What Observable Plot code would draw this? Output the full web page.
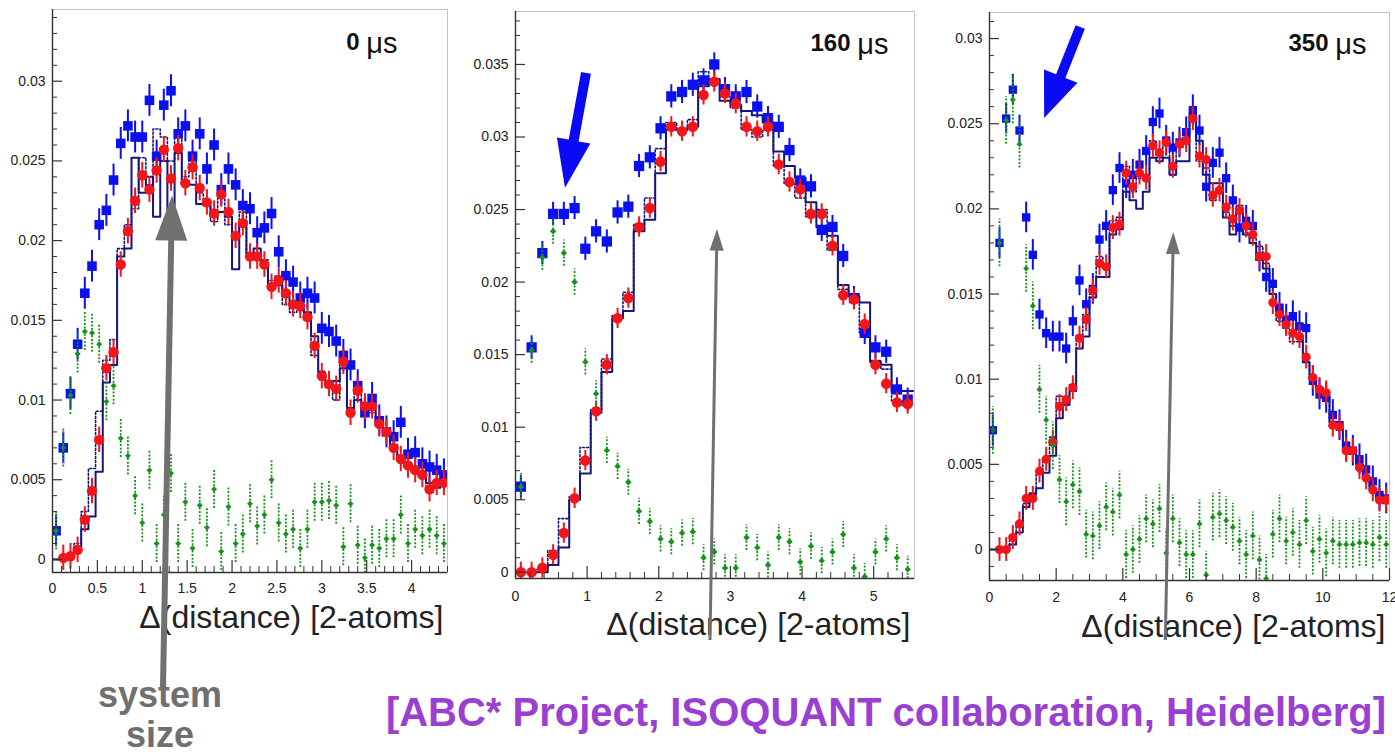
<!DOCTYPE html>
<html>
<head>
<meta charset="utf-8">
<script src="https://cdn.jsdelivr.net/npm/d3@7"></script>
<script src="https://cdn.jsdelivr.net/npm/@observablehq/plot@0.6"></script>
<style>
  body { margin: 0; background: #fff; }
  #wrap { position: relative; width: 1395px; height: 754px; overflow: hidden; font-family: "Liberation Sans", Arial, sans-serif; }
  .panel { position: absolute; top: 0; }
  #sys { position: absolute; left: 60px; top: 675px; width: 200px; text-align: center; font-weight: bold; font-size: 36px; line-height: 40px; color: #6f6f6f; }
  #credit { position: absolute; left: 370px; top: 688px; width: 1016px; text-align: right; font-weight: bold; font-size: 40px; line-height: 48px; color: #9b3fd3; white-space: nowrap; }
</style>
</head>
<body>
<div id="wrap">
  <div id="sys">system<br>size</div>
  <div id="credit">[ABC* Project, ISOQUANT collaboration, Heidelberg]</div>
</div>
<script>
// ---------------- data ----------------
const titles = ["0", "160", "350"];
const axisTitle = "Δ(distance) [2-atoms]";
const binWidth = [0.08, 0.15, 0.2];
const xMax = [4.4, 5.57, 12];
const yDomains = [[-0.00082, 0.0345], [-0.00043, 0.03865], [-0.00182, 0.03153]];
const xMajorTicks = [[0, 0.5, 1, 1.5, 2, 2.5, 3, 3.5, 4], [0, 1, 2, 3, 4, 5], [0, 2, 4, 6, 8, 10, 12]];
const xMinorStep = [0.1, 0.2, 0.5];
const yMajorTicks = [
  [0, 0.005, 0.01, 0.015, 0.02, 0.025, 0.03],
  [0, 0.005, 0.01, 0.015, 0.02, 0.025, 0.03, 0.035],
  [0, 0.005, 0.01, 0.015, 0.02, 0.025, 0.03]
];
const yMinorStep = 0.001;

// panel 1 (0 µs)
const blue1 = [0.0018,0.0070,0.0104,0.0135,0.0167,0.0184,0.0210,0.0219,0.0238,0.0261,0.0272,0.0265,0.0265,0.0288,0.0253,0.0285,0.0294,0.0267,0.0272,0.0253,0.0267,0.0245,0.0260,0.0232,0.0245,0.0235,0.0222,0.0220,0.0205,0.0208,0.0217,0.0193,0.0178,0.0174,0.0164,0.0167,0.0164,0.0145,0.0143,0.0137,0.0128,0.0122,0.0109,0.0092,0.0101,0.0087,0.0080,0.0077,0.0086,0.0066,0.0067,0.0060,0.0058,0.0056,0.0053];
const red1 = [null,0.0001,0.0002,0.0006,0.0025,0.0043,0.0075,0.0120,0.0130,0.0185,0.0206,0.0225,0.0241,0.0232,0.0244,0.0257,0.0239,0.0258,0.0236,0.0246,0.0233,0.0224,0.0217,0.0229,0.0218,0.0203,0.0211,0.0190,0.0190,0.0185,0.0171,0.0175,0.0167,0.0160,0.0159,0.0152,0.0134,0.0115,0.0110,0.0107,0.0124,0.0092,0.0106,0.0096,0.0096,0.0085,0.0080,0.0070,0.0063,0.0059,0.0056,0.0053,0.0044,0.0048,0.0048];
const green1 = [0.0018,0.0070,0.0103,0.0129,0.0143,0.0142,0.0135,0.0099,0.0109,0.0076,0.0065,0.0040,0.0023,0.0056,0.0010,0.0028,0.0054,0.0010,0.0036,0.0007,0.0034,0.0020,0.0044,0.0005,0.0033,0.0010,0.0016,0.0035,0.0021,0.0028,0.0050,0.0023,0.0016,0.0019,0.0007,0.0019,0.0036,0.0036,0.0037,0.0034,0.0008,0.0035,0.0009,0.0001,0.0009,0.0007,0.0013,0.0013,0.0028,0.0010,0.0019,0.0015,0.0019,0.0015,0.0010];
const solid1 = [0,0,0.0002,0.0008,0.0019,0.0027,0.0055,0.0111,0.0122,0.0190,0.0195,0.0252,0.0230,0.0240,0.0215,0.0250,0.0215,0.0255,0.0235,0.0235,0.0223,0.0222,0.0215,0.0218,0.0215,0.0182,0.0212,0.0192,0.0195,0.0185,0.0170,0.0172,0.0165,0.0160,0.0158,0.0155,0.0140,0.0115,0.0108,0.0112,0.0120,0.0095,0.0100,0.0095,0.0098,0.0085,0.0080,0.0072,0.0065,0.0060,0.0058,0.0055,0.0048,0.0045,0.0048];
const dotted1 = [0,0,0.0002,0.0010,0.0030,0.0057,0.0093,0.0125,0.0138,0.0195,0.0210,0.0220,0.0252,0.0235,0.0270,0.0265,0.0250,0.0265,0.0240,0.0250,0.0230,0.0225,0.0212,0.0230,0.0210,0.0205,0.0218,0.0190,0.0190,0.0188,0.0175,0.0178,0.0160,0.0155,0.0156,0.0150,0.0128,0.0118,0.0110,0.0100,0.0125,0.0093,0.0105,0.0098,0.0092,0.0083,0.0082,0.0070,0.0063,0.0060,0.0056,0.0052,0.0042,0.0048,0.0050];

// panel 2 (160 µs)
const blue2 = [0.0059,0.0155,0.0220,0.0247,0.0247,0.0251,0.0223,0.0235,0.0228,0.0248,0.0252,0.0280,0.0286,0.0306,0.0328,0.0331,0.0336,0.0339,0.0350,0.0333,0.0328,0.0331,0.0321,0.0313,0.0307,0.0291,0.0270,0.0266,0.0236,0.0238,0.0218,0.0189,0.0165,0.0155,0.0152,0.0126,0.0119];
const red2 = [0.0000,0.0000,0.0003,0.0012,0.0027,0.0051,0.0077,0.0111,0.0143,0.0175,0.0189,0.0238,0.0251,0.0283,0.0307,0.0304,0.0307,0.0329,0.0338,0.0330,0.0323,0.0307,0.0304,0.0307,0.0281,0.0269,0.0264,0.0247,0.0247,0.0225,0.0191,0.0188,0.0171,0.0143,0.0130,0.0117,0.0116];
const green2 = [0.0059,0.0153,0.0217,0.0235,0.0220,0.0200,0.0145,0.0123,0.0084,0.0073,0.0062,0.0042,0.0035,0.0023,0.0021,0.0027,0.0028,0.0010,0.0014,0.0003,0.0003,0.0024,0.0017,0.0005,0.0024,0.0021,0.0007,0.0018,0.0008,0.0014,0.0026,0.0003,-0.0003,0.0014,0.0023,0.0010,0.0002];
const solid2 = [0,0,0,0.0005,0.0017,0.0050,0.0068,0.0110,0.0138,0.0175,0.0180,0.0235,0.0243,0.0275,0.0305,0.0305,0.0307,0.0335,0.0340,0.0325,0.0322,0.0318,0.0315,0.0310,0.0290,0.0280,0.0272,0.0255,0.0238,0.0232,0.0198,0.0190,0.0186,0.0145,0.0143,0.0125,0.0125];
const dotted2 = [0,0,0.0002,0.0015,0.0037,0.0052,0.0086,0.0112,0.0147,0.0177,0.0193,0.0240,0.0258,0.0292,0.0310,0.0305,0.0312,0.0345,0.0340,0.0328,0.0320,0.0305,0.0300,0.0305,0.0280,0.0268,0.0258,0.0245,0.0250,0.0222,0.0195,0.0192,0.0165,0.0146,0.0140,0.0118,0.0115];

// panel 3 (350 µs)
const blue3 = [0.0070,0.0180,0.0253,0.0270,0.0246,0.0195,0.0173,0.0138,0.0127,0.0125,0.0125,0.0118,0.0134,0.0158,0.0144,0.0153,0.0182,0.0190,0.0211,0.0224,0.0215,0.0220,0.0226,0.0234,0.0251,0.0256,0.0240,0.0236,0.0239,0.0245,0.0258,0.0246,0.0213,0.0227,0.0233,0.0218,0.0205,0.0189,0.0193,0.0190,0.0172,0.0160,0.0156,0.0142,0.0135,0.0137,0.0131,0.0130,0.0099,0.0091,0.0089,0.0079,0.0073,0.0061,0.0058,0.0053,0.0047,0.0040,0.0032,0.0030];
const red3 = [null,0.0000,0.0000,0.0007,0.0015,0.0030,0.0030,0.0046,0.0053,0.0063,0.0084,0.0088,0.0095,0.0124,0.0135,0.0152,0.0168,0.0166,0.0189,0.0191,0.0221,0.0213,0.0221,0.0218,0.0237,0.0233,0.0239,0.0225,0.0238,0.0240,0.0253,0.0231,0.0229,0.0208,0.0211,0.0201,0.0194,0.0199,0.0190,0.0185,0.0172,0.0172,0.0145,0.0138,0.0132,0.0127,0.0125,0.0113,0.0101,0.0094,0.0092,0.0073,0.0072,0.0058,0.0058,0.0048,0.0042,0.0035,0.0029,0.0029];
const green3 = [0.0070,0.0180,0.0252,0.0264,0.0238,0.0165,0.0143,0.0094,0.0076,0.0061,0.0041,0.0028,0.0038,0.0034,0.0009,0.0008,0.0014,0.0025,0.0022,0.0032,-0.0003,0.0000,0.0006,0.0018,0.0015,0.0024,-0.0002,0.0018,0.0004,-0.0003,-0.0003,0.0015,-0.0015,0.0019,0.0021,0.0017,0.0013,0.0005,-0.0003,0.0008,-0.0006,-0.0017,0.0009,0.0018,0.0005,0.0010,0.0003,0.0017,-0.0001,0.0006,-0.0002,0.0005,0.0003,0.0003,0.0003,0.0004,0.0004,0.0003,0.0007,0.0003];
const solid3 = [0,0,0,0.0003,0.0010,0.0025,0.0033,0.0036,0.0045,0.0055,0.0077,0.0085,0.0093,0.0118,0.0125,0.0148,0.0160,0.0160,0.0185,0.0188,0.0210,0.0205,0.0200,0.0210,0.0230,0.0228,0.0230,0.0220,0.0228,0.0228,0.0255,0.0240,0.0220,0.0215,0.0215,0.0195,0.0185,0.0200,0.0185,0.0180,0.0170,0.0165,0.0150,0.0140,0.0135,0.0135,0.0125,0.0110,0.0100,0.0095,0.0090,0.0075,0.0072,0.0060,0.0058,0.0050,0.0043,0.0036,0.0030,0.0028];
const dotted3 = [0,0,0.0001,0.0008,0.0016,0.0027,0.0032,0.0045,0.0052,0.0066,0.0090,0.0085,0.0097,0.0126,0.0138,0.0150,0.0172,0.0165,0.0193,0.0195,0.0225,0.0210,0.0218,0.0220,0.0240,0.0230,0.0242,0.0220,0.0236,0.0242,0.0258,0.0228,0.0224,0.0205,0.0212,0.0198,0.0190,0.0202,0.0186,0.0183,0.0178,0.0168,0.0150,0.0134,0.0130,0.0122,0.0122,0.0110,0.0100,0.0093,0.0090,0.0072,0.0070,0.0058,0.0056,0.0047,0.0042,0.0034,0.0028,0.0027];

// half-widths of error bars per panel
const errBlue = [0.0010, 0.0008, 0.0009];
const errRed = [0.0008, 0.0007, 0.0007];
const errGreen = [0.0012, 0.0009, 0.0014];

// annotation arrows (data coordinates of each panel)
const arrows = [
  [{x1: 1.236, y1: -0.0082, x2: 1.337, y2: 0.0228, shaft: 6, head: 45, headWidth: 32, color: "#707070"}],
  [{x1: 2.722, y1: -0.0047, x2: 2.82, y2: 0.02365, shaft: 3, head: 22, headWidth: 14, color: "#707070"},
   {x1: 0.991, y1: 0.03438, x2: 0.698, y2: 0.02647, shaft: 10, head: 48, headWidth: 34, color: "#0a0af5"}],
  [{x1: 5.29, y1: -0.00534, x2: 5.53, y2: 0.01861, shaft: 3, head: 22, headWidth: 14, color: "#707070"},
   {x1: 2.737, y1: 0.03065, x2: 1.654, y2: 0.02531, shaft: 10, head: 45, headWidth: 36, color: "#0a0af5"}]
];

const series = [
  {blue: blue1, red: red1, green: green1, solid: solid1, dotted: dotted1},
  {blue: blue2, red: red2, green: green2, solid: solid2, dotted: dotted2},
  {blue: blue3, red: red3, green: green3, solid: solid3, dotted: dotted3}
];

// ---------------- layout / style ----------------
const layout = [
  {left: 0, width: 470, mt: 9, mb: 182, ml: 52, mr: 23, titleDx: -50, titleDy: 23, labelDy: 55, tickDy: 20, sqR: 5.4, cR: 5.2, dR: 2.7},
  {left: 470, width: 465, mt: 11, mb: 176, ml: 45, mr: 21, titleDx: -26, titleDy: 22, labelDy: 56, tickDy: 22, sqR: 5.8, cR: 5.3, dR: 2.9},
  {left: 935, width: 460, mt: 12, mb: 174, ml: 54, mr: 6, titleDx: -23, titleDy: 21, labelDy: 56, tickDy: 21, sqR: 4.7, cR: 4.6, dR: 2.7}
];
const H = 754;
const C = {blue: "#0a10ee", red: "#f2161b", green: "#17931b", navy: "#15157c", axis: "#333", text: "#222"};
const fmt = d => String(+d.toFixed(4));

function arrowMark(list) {
  return (index, scales) => {
    const g = d3.create("svg:g");
    for (const a of list) {
      const x1 = scales.x(a.x1), y1 = scales.y(a.y1), x2 = scales.x(a.x2), y2 = scales.y(a.y2);
      const L = Math.hypot(x2 - x1, y2 - y1), ux = (x2 - x1) / L, uy = (y2 - y1) / L, nx = -uy, ny = ux;
      const bx = x2 - ux * a.head, by = y2 - uy * a.head, w = a.shaft / 2, hw = a.headWidth / 2;
      const pts = [[x1 + nx * w, y1 + ny * w], [bx + nx * w, by + ny * w], [bx + nx * hw, by + ny * hw], [x2, y2],
                   [bx - nx * hw, by - ny * hw], [bx - nx * w, by - ny * w], [x1 - nx * w, y1 - ny * w]];
      g.append("path").attr("d", "M" + pts.map(p => p.join(",")).join("L") + "Z").attr("fill", a.color);
    }
    return g.node();
  };
}

const wrap = document.getElementById("wrap");
for (let k = 0; k < 3; k++) {
  const s = series[k], L = layout[k], w = binWidth[k], n = s.blue.length;
  const [ymin, ymax] = yDomains[k];
  const rows = d3.range(n).map(i => ({x: w * (i + 0.5), blue: s.blue[i], red: s.red[i], green: s.green[i]}));
  const steps = vals => [...vals.map((v, i) => ({x: w * i, y: v})), {x: w * n, y: vals[n - 1]}];
  const frameH = H - L.mt - L.mb, frameW = L.width - L.ml - L.mr;
  const xMinor = d3.range(0, xMax[k] + 1e-9, xMinorStep[k]).filter(v => !xMajorTicks[k].some(m => Math.abs(m - v) < 1e-9));
  const yMinor = d3.range(Math.ceil(ymin / yMinorStep) * yMinorStep, ymax, yMinorStep).filter(v => !yMajorTicks[k].some(m => Math.abs(m - v) < 1e-9));

  const chart = Plot.plot({
    width: L.width, height: H,
    marginLeft: L.ml, marginRight: L.mr, marginTop: L.mt, marginBottom: L.mb,
    x: {domain: [0, xMax[k]], axis: null},
    y: {domain: [ymin, ymax], axis: null},
    style: {fontFamily: "'Liberation Sans', Arial, sans-serif", background: "transparent", overflow: "visible"},
    marks: [
      Plot.frame({stroke: "#c4c4c4", strokeWidth: 1}),
      // histogram steps
      Plot.line(steps(s.dotted), {x: "x", y: "y", curve: "step-after", stroke: C.navy, strokeWidth: 1.6, strokeDasharray: "2,2", clip: true}),
      Plot.line(steps(s.solid), {x: "x", y: "y", curve: "step-after", stroke: C.navy, strokeWidth: 2, clip: true}),
      // blue squares
      Plot.ruleX(rows, {x: "x", y1: d => d.blue - errBlue[k], y2: d => d.blue + errBlue[k], stroke: C.blue, strokeWidth: 2, clip: true}),
      Plot.dot(rows, {x: "x", y: "blue", symbol: "square", r: L.sqR, fill: C.blue, clip: true}),
      // red circles
      Plot.ruleX(rows.filter(d => d.red != null), {x: "x", y1: d => d.red - errRed[k], y2: d => d.red + errRed[k], stroke: C.red, strokeWidth: 2, clip: true}),
      Plot.dot(rows.filter(d => d.red != null), {x: "x", y: "red", r: L.cR, fill: C.red, clip: true}),
      // green diamonds
      Plot.ruleX(rows, {x: "x", y1: d => d.green - errGreen[k], y2: d => d.green + errGreen[k], stroke: C.green, strokeWidth: 1.8, strokeDasharray: "2,1.6", clip: true}),
      Plot.dot(rows, {x: "x", y: "green", symbol: "diamond2", r: L.dR, fill: C.green, clip: true}),
      // axes (ROOT style, ticks inside)
      Plot.ruleX([0], {stroke: C.axis, strokeWidth: 1.4}),
      Plot.ruleY([ymin], {stroke: C.axis, strokeWidth: 1.4}),
      Plot.tickY(yMajorTicks[k], {y: d => d, insetRight: frameW - 10, stroke: C.axis, strokeWidth: 1.2}),
      Plot.tickY(yMinor, {y: d => d, insetRight: frameW - 5, stroke: C.axis, strokeWidth: 1}),
      Plot.tickX(xMajorTicks[k], {x: d => d, insetTop: frameH - 12, stroke: C.axis, strokeWidth: 1.2}),
      Plot.tickX(xMinor, {x: d => d, insetTop: frameH - 6, stroke: C.axis, strokeWidth: 1}),
      Plot.text(yMajorTicks[k], {y: d => d, frameAnchor: "left", dx: -7, textAnchor: "end", text: fmt, fontSize: 14, fill: C.text}),
      Plot.text(xMajorTicks[k], {x: d => d, frameAnchor: "bottom", dy: L.tickDy, text: fmt, fontSize: 14, fill: C.text}),
      Plot.text([axisTitle], {frameAnchor: "bottom-right", dy: L.labelDy, dx: -4, textAnchor: "end", fontSize: 32, fill: C.text}),
      // panel title
      Plot.text(["μs"], {frameAnchor: "top-right", dx: L.titleDx, dy: L.titleDy, textAnchor: "end", fontSize: 29, fill: "#111"}),
      Plot.text([titles[k]], {frameAnchor: "top-right", dx: L.titleDx - 38, dy: L.titleDy, textAnchor: "end", fontSize: 24, fontWeight: "bold", fill: "#111"}),
      // annotation arrows
      arrowMark(arrows[k])
    ]
  });
  chart.classList.add("panel");
  chart.style.left = L.left + "px";
  wrap.insertBefore(chart, wrap.firstChild);
}
</script>
</body>
</html>
